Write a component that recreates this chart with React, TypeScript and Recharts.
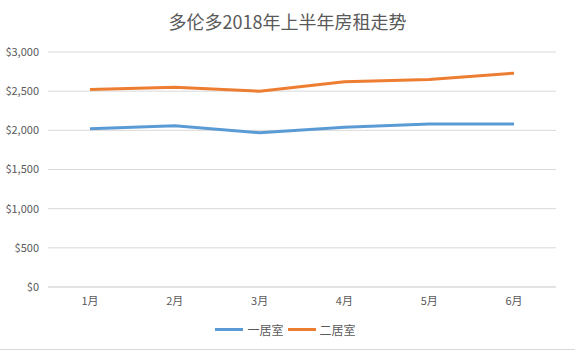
import React from 'react';
import { LineChart, Line, XAxis, YAxis, CartesianGrid, Legend } from 'recharts';

const months = ['1月', '2月', '3月', '4月', '5月', '6月'];
const oneBedroom = [2020, 2060, 1970, 2040, 2080, 2080];
const twoBedroom = [2520, 2550, 2500, 2620, 2650, 2730];
const yTicks = [0, 500, 1000, 1500, 2000, 2500, 3000];

const series = [
  { key: 'one', name: '一居室', color: '#5B9BD5' },
  { key: 'two', name: '二居室', color: '#ED7D31' },
];

const data = months.map((m, i) => ({ month: m, one: oneBedroom[i], two: twoBedroom[i] }));

const font = '"Microsoft YaHei", "Noto Sans CJK SC", "Noto Sans", sans-serif';

const LegendContent = () => (
  <div style={{ display: 'flex', justifyContent: 'center', alignItems: 'center', height: 18, fontFamily: font, fontSize: 12, color: '#595959' }}>
    {series.map((s) => (
      <span key={s.key} style={{ display: 'flex', alignItems: 'center', marginRight: 4 }}>
        <span style={{ display: 'inline-block', width: 28, height: 3, background: s.color, marginRight: 4 }} />
        {s.name}
      </span>
    ))}
  </div>
);

export default function App() {
  return (
    <div style={{ position: 'absolute', left: 0, top: 0, width: 575, height: 357, background: '#fff', fontFamily: font }}>
      <div style={{ position: 'absolute', top: 8, width: 575, textAlign: 'center', fontSize: 18, color: '#595959' }}>
        多伦多2018年上半年房租走势
      </div>
      <div style={{ position: 'absolute', left: 0, right: 0, top: 349, borderTop: '1px solid #d9d9d9' }} />
      <LineChart width={575} height={357} data={data} margin={{ top: 52, right: 19, bottom: 22, left: 0 }}>
        <CartesianGrid vertical={false} stroke="#d9d9d9" />
        <XAxis
          dataKey="month"
          axisLine={{ stroke: '#d9d9d9' }}
          tickLine={false}
          tickSize={0}
          tickMargin={10}
          height={30}
          padding={{ left: 42, right: 42 }}
          tick={{ fontSize: 11, fill: '#595959', fontFamily: font }}
        />
        <YAxis
          domain={[0, 3000]}
          ticks={yTicks}
          axisLine={false}
          tickLine={false}
          tickSize={0}
          tickMargin={9}
          width={48}
          tickFormatter={(v: number) => '$' + v.toLocaleString('en-US')}
          tick={{ fontSize: 11, fill: '#595959', fontFamily: font }}
        />
        <Legend verticalAlign="bottom" wrapperStyle={{ top: 320, left: 0, width: 575 }} content={<LegendContent />} />
        {series.map((s) => (
          <Line
            key={s.key}
            dataKey={s.key}
            name={s.name}
            stroke={s.color}
            strokeWidth={3}
            dot={false}
            type="linear"
            isAnimationActive={false}
          />
        ))}
      </LineChart>
    </div>
  );
}
